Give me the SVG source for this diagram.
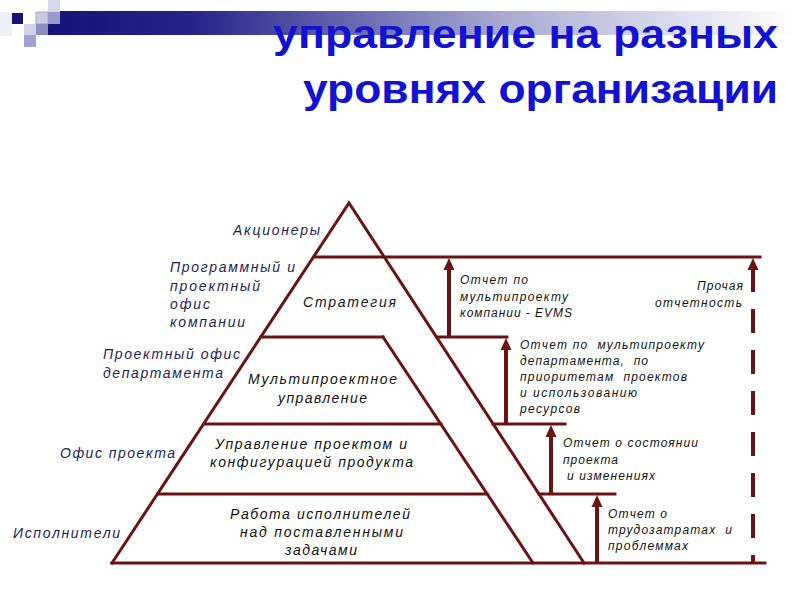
<svg xmlns="http://www.w3.org/2000/svg" xmlns:xlink="http://www.w3.org/1999/xlink" width="800" height="600" viewBox="0 0 800 600">
<style>
.ln{stroke:#6b1212;stroke-width:3;fill:none;stroke-linecap:square}
.sh{stroke:#6b1212;stroke-width:4;fill:none}
.dash{stroke:#6b1212;stroke-width:4;fill:none;stroke-dasharray:24 17}
.ah{fill:#6b1212}
.lab{font-family:"Liberation Sans",Arial,sans-serif;font-style:italic;font-size:14px;fill:#1e1e58}
.pl{font-family:"Liberation Sans",Arial,sans-serif;font-style:italic;font-size:14px;fill:#111111}
.rl{font-family:"Liberation Sans",Arial,sans-serif;font-style:italic;font-size:12px;fill:#111111}
.ttl{font-family:"Liberation Sans",Arial,sans-serif;font-weight:700;font-size:41px;fill:#1212d2}
</style>
<defs>
<linearGradient id="bar" x1="0" y1="0" x2="1" y2="0">
<stop offset="0" stop-color="#14147a"/>
<stop offset="0.18" stop-color="#24248a"/>
<stop offset="0.6" stop-color="#a8a8d2"/>
<stop offset="1" stop-color="#ffffff"/>
</linearGradient>
<path id="ahd" d="M0,0 L-5.5,12 L5.5,12 Z"/>
</defs>
<rect width="800" height="600" fill="#ffffff"/>
<g id="decoration">
<rect x="60" y="11" width="735" height="24" fill="url(#bar)"/>
<rect x="48" y="24" width="12" height="11" fill="#14147a"/>
<rect x="0" y="12" width="12" height="24" fill="#eeeef6"/>
<rect x="12" y="13" width="11" height="11" fill="#12127a"/>
<rect x="48" y="0" width="12" height="12" fill="#d6d6ea"/>
<rect x="36" y="12" width="12" height="12" fill="#cacae4" stroke="#9a9aba" stroke-width="0.8"/>
<rect x="48" y="12" width="12" height="12" fill="#9a9acc"/>
<rect x="24" y="24" width="12" height="11" fill="#d2d2ea"/>
<rect x="36" y="24" width="12" height="11" fill="#8e8ec2"/>
<rect x="24" y="35" width="12" height="12" fill="#a2a2d0"/>
</g>
<g id="title">
<text class="ttl" x="273" y="48" textLength="505" lengthAdjust="spacingAndGlyphs">управление на разных</text>
<text class="ttl" x="303" y="103" textLength="475" lengthAdjust="spacingAndGlyphs">уровнях организации</text>
</g>
<g id="pyramid">
<path class="ln" d="M112,563 L349,203 L584,563"/>
<path class="ln" d="M383,337 L533,563"/>
<line class="ln" x1="314" y1="257" x2="760" y2="257"/>
<line class="ln" x1="261" y1="337" x2="383" y2="337"/>
<line class="ln" x1="437" y1="337" x2="507" y2="337"/>
<line class="ln" x1="204" y1="424" x2="441" y2="424"/>
<line class="ln" x1="493" y1="424" x2="565" y2="424"/>
<line class="ln" x1="158" y1="494" x2="487" y2="494"/>
<line class="ln" x1="539" y1="494" x2="615" y2="494"/>
<line class="ln" x1="112" y1="563" x2="765" y2="563"/>
</g>
<g id="level-shareholders">
<text class="lab" x="320" y="235" text-anchor="end" textLength="87">Акционеры</text>
</g>
<g id="level-strategy">
<text class="lab" x="170" y="272" textLength="125">Программный и</text>
<text class="lab" x="170" y="291" textLength="90">проектный</text>
<text class="lab" x="170" y="309" textLength="40">офис</text>
<text class="lab" x="170" y="327" textLength="75">компании</text>
<text class="pl" x="303" y="307" textLength="93">Стратегия</text>
</g>
<g id="level-multiproject">
<text class="lab" x="103" y="359" textLength="137">Проектный офис</text>
<text class="lab" x="103" y="378" textLength="120">департамента</text>
<text class="pl" x="248" y="384" textLength="149">Мультипроектное</text>
<text class="pl" x="278" y="403" textLength="89">управление</text>
</g>
<g id="level-project">
<text class="lab" x="60" y="458" textLength="115">Офис проекта</text>
<text class="pl" x="215" y="449" textLength="192">Управление проектом и</text>
<text class="pl" x="210" y="467" textLength="203">конфигурацией продукта</text>
</g>
<g id="level-executors">
<text class="lab" x="13" y="538" textLength="107">Исполнители</text>
<text class="pl" x="230" y="519" textLength="180">Работа исполнителей</text>
<text class="pl" x="240" y="537" textLength="163">над поставленными</text>
<text class="pl" x="285" y="555" textLength="72">задачами</text>
</g>
<g id="report-evms">
<text class="rl" x="460" y="284" textLength="68" xml:space="preserve">Отчет по</text>
<text class="rl" x="460" y="301" textLength="108">мультипроекту</text>
<text class="rl" x="460" y="317" textLength="112">компании - EVMS</text>
</g>
<g id="report-other">
<text class="rl" x="743" y="290" text-anchor="end" textLength="46">Прочая</text>
<text class="rl" x="742" y="307" text-anchor="end" textLength="87">отчетность</text>
</g>
<g id="report-department">
<text class="rl" x="520" y="349" textLength="184" xml:space="preserve">Отчет по  мультипроекту</text>
<text class="rl" x="520" y="365" textLength="128" xml:space="preserve">департамента,  по</text>
<text class="rl" x="520" y="381" textLength="167" xml:space="preserve">приоритетам  проектов</text>
<text class="rl" x="520" y="397" textLength="117">и использованию</text>
<text class="rl" x="520" y="413" textLength="60">ресурсов</text>
</g>
<g id="report-project">
<text class="rl" x="563" y="447" textLength="135">Отчет о состоянии</text>
<text class="rl" x="563" y="464" textLength="55">проекта</text>
<text class="rl" x="567" y="480" textLength="88">и изменениях</text>
</g>
<g id="report-labour">
<text class="rl" x="608" y="518" textLength="59">Отчет о</text>
<text class="rl" x="608" y="534" textLength="124" xml:space="preserve">трудозатратах  и</text>
<text class="rl" x="608" y="550" textLength="80">проблеммах</text>
</g>
<g id="connectors">
<line class="sh" x1="449" y1="337" x2="449" y2="268"/>
<use xlink:href="#ahd" class="ah" x="449" y="258"/>
<line class="sh" x1="506" y1="424" x2="506" y2="348"/>
<use xlink:href="#ahd" class="ah" x="506" y="338"/>
<line class="sh" x1="551" y1="494" x2="551" y2="434"/>
<use xlink:href="#ahd" class="ah" x="551" y="425"/>
<line class="sh" x1="597" y1="563" x2="597" y2="504"/>
<use xlink:href="#ahd" class="ah" x="597" y="495"/>
<line class="dash" x1="753" y1="268" x2="753" y2="563"/>
<use xlink:href="#ahd" class="ah" x="753" y="258"/>
</g>
</svg>
